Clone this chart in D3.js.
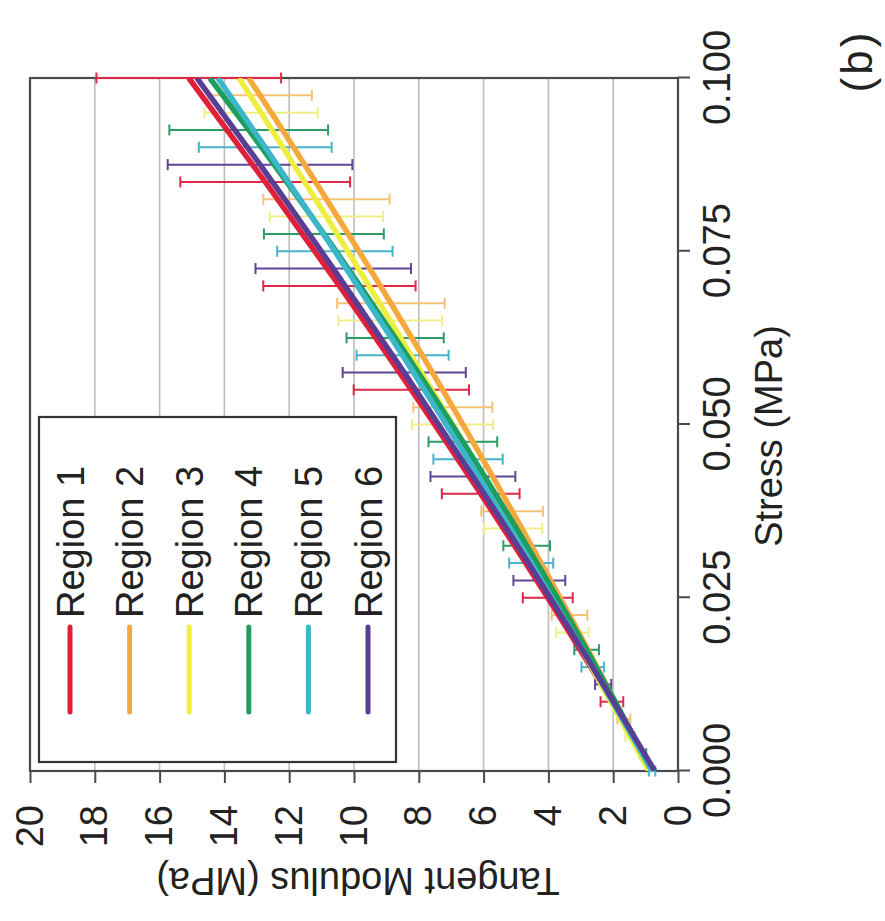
<!DOCTYPE html>
<html>
<head>
<meta charset="utf-8">
<script src="https://cdn.jsdelivr.net/npm/d3@7"></script>
<style>
  html, body { margin: 0; padding: 0; background: #ffffff; }
  svg text { font-family: "Liberation Sans", Arial, Helvetica, sans-serif; fill: #222; }
</style>
</head>
<body>
<svg id="chart" width="885" height="921"></svg>
<script>
// ---- data -------------------------------------------------------------
const regions   = ["Region 1", "Region 2", "Region 3", "Region 4", "Region 5", "Region 6"];
const colors    = ["#e0203a", "#f5a93c", "#eeee40", "#1e9e5c", "#3cb6ca", "#5a3e94"];
const barColors = ["#dc2a44", "#f6c27a", "#f1ee88", "#2a9c64", "#47b4c8", "#5e4596"];

const stressTicks  = [0, 0.025, 0.05, 0.075, 0.1];
const modulusTicks = [0, 2, 4, 6, 8, 10, 12, 14, 16, 18, 20];

// per region: stress (MPa), mean tangent modulus (MPa), standard deviation (null = no bar)
const r1Stress = [0, 0.01, 0.025, 0.04, 0.055, 0.07, 0.085, 0.1];
const r1Mean   = [0.75, 2.04, 4.02, 6.09, 8.23, 10.45, 12.74, 15.1];
const r1Sd     = [null, 0.35, 0.77, 1.2, 1.78, 2.35, 2.62, 2.85];

const r2Stress = [0, 0.0075, 0.0225, 0.0375, 0.0525, 0.0675, 0.0825, 0.0975, 0.1];
const r2Mean   = [0.85, 1.67, 3.35, 5.12, 6.95, 8.86, 10.85, 12.9, 13.25];
const r2Sd     = [null, 0.2, 0.55, 0.95, 1.22, 1.66, 1.95, 1.6, null];

const r3Stress = [0, 0.005, 0.02, 0.035, 0.05, 0.065, 0.08, 0.095, 0.1];
const r3Mean   = [0.9, 1.48, 3.26, 5.09, 6.96, 8.88, 10.85, 12.87, 13.55];
const r3Sd     = [null, 0.15, 0.5, 0.9, 1.25, 1.6, 1.75, 1.75, null];

const r4Stress = [0, 0.0025, 0.0175, 0.0325, 0.0475, 0.0625, 0.0775, 0.0925, 0.1];
const r4Mean   = [0.8, 1.08, 2.82, 4.67, 6.64, 8.73, 10.93, 13.25, 14.45];
const r4Sd     = [null, 0.1, 0.38, 0.72, 1.06, 1.5, 1.85, 2.45, null];

const r5Stress = [0, 0.015, 0.03, 0.045, 0.06, 0.075, 0.09, 0.1];
const r5Mean   = [0.8, 2.63, 4.53, 6.48, 8.5, 10.59, 12.74, 14.2];
const r5Sd     = [0.1, 0.35, 0.68, 1.07, 1.42, 1.78, 2.05, null];

const r6Stress = [0, 0.0125, 0.0275, 0.0425, 0.0575, 0.0725, 0.0875, 0.1];
const r6Mean   = [0.72, 2.31, 4.28, 6.33, 8.45, 10.64, 12.9, 14.85];
const r6Sd     = [null, 0.25, 0.8, 1.31, 1.9, 2.4, 2.85, null];

const seriesStress = [r1Stress, r2Stress, r3Stress, r4Stress, r5Stress, r6Stress];
const seriesMean   = [r1Mean, r2Mean, r3Mean, r4Mean, r5Mean, r6Mean];
const seriesSd     = [r1Sd, r2Sd, r3Sd, r4Sd, r5Sd, r6Sd];

const series = regions.map((name, i) => ({
  name,
  color: colors[i],
  barColor: barColors[i],
  points: seriesStress[i].map((s, j) => ({ s, m: seriesMean[i][j], sd: seriesSd[i][j] }))
}));

// ---- layout -----------------------------------------------------------
// The figure is laid out upright in a 921 x 885 frame, then turned a quarter
// turn counter-clockwise onto the 885 x 921 page.
const FONT = 38;
const plot = { left: 150, right: 843, top: 30, bottom: 678 };

const svg = d3.select("#chart");
const g = svg.append("g").attr("transform", "translate(0,921) rotate(-90)");

const x = d3.scaleLinear().domain([0, 0.1]).range([plot.left, plot.right]);
const y = d3.scaleLinear().domain([0, 20]).range([plot.bottom, plot.top]);

g.append("clipPath").attr("id", "plotClip")
  .append("rect")
  .attr("x", plot.left).attr("y", plot.top)
  .attr("width", plot.right - plot.left).attr("height", plot.bottom - plot.top);

// horizontal gridlines
g.append("g")
  .selectAll("line")
  .data(modulusTicks.filter(t => t > 0 && t < 20))
  .join("line")
  .attr("x1", plot.left).attr("x2", plot.right)
  .attr("y1", d => y(d)).attr("y2", d => y(d))
  .attr("stroke", "#bdbdbd").attr("stroke-width", 1.6);

// plot frame
g.append("rect")
  .attr("x", plot.left).attr("y", plot.top)
  .attr("width", plot.right - plot.left).attr("height", plot.bottom - plot.top)
  .attr("fill", "none").attr("stroke", "#4a4a4a").attr("stroke-width", 2.2);

// axes
const xAxis = d3.axisBottom(x)
  .tickValues(stressTicks)
  .tickFormat(d3.format(".3f"))
  .tickSize(12).tickPadding(13);
const yAxis = d3.axisLeft(y)
  .tickValues(modulusTicks)
  .tickFormat(d3.format("d"))
  .tickSize(12).tickPadding(22);

const gx = g.append("g").attr("transform", `translate(0,${plot.bottom})`).call(xAxis);
const gy = g.append("g").attr("transform", `translate(${plot.left},0)`).call(yAxis);
[gx, gy].forEach(a => {
  a.select(".domain").remove();
  a.selectAll(".tick line").attr("stroke", "#4a4a4a").attr("stroke-width", 2);
  a.selectAll(".tick text")
    .attr("font-size", FONT)
    .attr("font-family", '"Liberation Sans", Arial, sans-serif')
    .attr("fill", "#222");
});

// axis titles
g.append("text")
  .attr("x", 485).attr("y", 782)
  .attr("text-anchor", "middle")
  .attr("font-size", FONT)
  .text("Stress (MPa)");

g.append("text")
  .attr("transform", `translate(53,${(plot.top + plot.bottom) / 2 + 4}) rotate(-90)`)
  .attr("text-anchor", "middle")
  .attr("font-size", FONT)
  .text("Tangent Modulus (MPa)");

g.append("text")
  .attr("x", 860).attr("y", 872)
  .attr("text-anchor", "middle")
  .attr("font-size", 44)
  .attr("letter-spacing", 3)
  .text("(b)");

// legend
const legend = { x0: 159, x1: 504, y0: 39, y1: 396 };
g.append("rect")
  .attr("x", legend.x0).attr("y", legend.y0)
  .attr("width", legend.x1 - legend.x0).attr("height", legend.y1 - legend.y0)
  .attr("fill", "#fff").attr("stroke", "#333").attr("stroke-width", 2.2);

const ly = d3.scalePoint().domain(regions).range([70, 368]);
const items = g.append("g").selectAll("g").data(series).join("g")
  .attr("transform", d => `translate(0,${ly(d.name)})`);
items.append("line")
  .attr("x1", 209).attr("x2", 294)
  .attr("stroke", d => d.color).attr("stroke-width", 5).attr("stroke-linecap", "round");
items.append("text")
  .attr("x", 303).attr("y", 0.36 * FONT)
  .attr("font-size", FONT)
  .text(d => d.name);

// error bars (mean ± sd)
const cap = 5.5;
const bars = g.append("g").selectAll("g").data(series).join("g")
  .attr("stroke", d => d.barColor).attr("stroke-width", 2);
bars.each(function (d) {
  const sel = d3.select(this);
  const pts = d.points.filter(p => p.sd != null);
  sel.selectAll("line.v").data(pts).join("line").attr("class", "v")
    .attr("x1", p => x(p.s)).attr("x2", p => x(p.s))
    .attr("y1", p => y(p.m - p.sd)).attr("y2", p => y(p.m + p.sd));
  sel.selectAll("line.lo").data(pts).join("line").attr("class", "lo")
    .attr("x1", p => x(p.s) - cap).attr("x2", p => x(p.s) + cap)
    .attr("y1", p => y(p.m - p.sd)).attr("y2", p => y(p.m - p.sd));
  sel.selectAll("line.hi").data(pts).join("line").attr("class", "hi")
    .attr("x1", p => x(p.s) - cap).attr("x2", p => x(p.s) + cap)
    .attr("y1", p => y(p.m + p.sd)).attr("y2", p => y(p.m + p.sd));
});

// mean curves
const line = d3.line()
  .x(p => x(p.s)).y(p => y(p.m))
  .curve(d3.curveMonotoneX);
g.append("g").attr("clip-path", "url(#plotClip)")
  .selectAll("path").data(series).join("path")
  .attr("d", d => line(d.points))
  .attr("fill", "none")
  .attr("stroke", d => d.color)
  .attr("stroke-width", 5.5)
  .attr("stroke-linejoin", "round");
</script>
</body>
</html>
